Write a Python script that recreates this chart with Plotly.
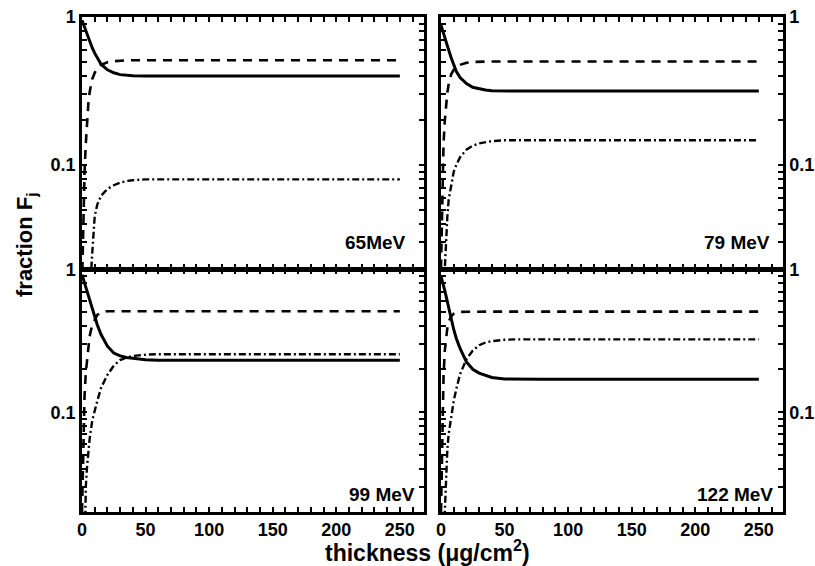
import plotly.graph_objects as go
import math

thickness = [0, 1, 2, 3, 4, 5, 6, 8, 10, 12, 15, 20, 25, 30, 35, 40, 50, 60, 80, 100, 150, 200, 250]

panels = ["65MeV", "79 MeV", "99 MeV", "122 MeV"]

# 65 MeV
solid_65 = [0.95, 0.90, 0.85, 0.80, 0.76, 0.72, 0.68, 0.62, 0.57, 0.53, 0.48, 0.44, 0.42, 0.408, 0.403, 0.401, 0.40, 0.40, 0.40, 0.40, 0.40, 0.40, 0.40]
dash_65 = [0.015, 0.05, 0.09, 0.14, 0.20, 0.26, 0.31, 0.38, 0.42, 0.45, 0.475, 0.495, 0.503, 0.508, 0.51, 0.51, 0.51, 0.51, 0.51, 0.51, 0.51, 0.51, 0.51]
dashdot_65 = [0.0003, 0.001, 0.002, 0.004, 0.006, 0.009, 0.013, 0.025, 0.045, 0.054, 0.062, 0.069, 0.073, 0.076, 0.078, 0.079, 0.08, 0.08, 0.08, 0.08, 0.08, 0.08, 0.08]

# 79 MeV
solid_79 = [0.88, 0.83, 0.78, 0.73, 0.68, 0.64, 0.60, 0.53, 0.47, 0.43, 0.39, 0.355, 0.335, 0.326, 0.321, 0.318, 0.316, 0.316, 0.316, 0.316, 0.316, 0.316, 0.316]
dash_79 = [0.02, 0.07, 0.14, 0.20, 0.26, 0.31, 0.35, 0.41, 0.44, 0.46, 0.475, 0.49, 0.497, 0.50, 0.50, 0.50, 0.50, 0.50, 0.50, 0.50, 0.50, 0.50, 0.50]
dashdot_79 = [0.001, 0.004, 0.01, 0.02, 0.032, 0.045, 0.058, 0.075, 0.09, 0.10, 0.113, 0.127, 0.135, 0.14, 0.143, 0.145, 0.147, 0.147, 0.147, 0.147, 0.147, 0.147, 0.147]

# 99 MeV
solid_99 = [0.92, 0.86, 0.80, 0.75, 0.70, 0.65, 0.60, 0.52, 0.46, 0.41, 0.35, 0.29, 0.26, 0.248, 0.242, 0.238, 0.233, 0.231, 0.231, 0.231, 0.231, 0.231, 0.231]
dash_99 = [0.02, 0.07, 0.13, 0.19, 0.24, 0.29, 0.34, 0.41, 0.45, 0.48, 0.50, 0.51, 0.51, 0.51, 0.51, 0.51, 0.51, 0.51, 0.51, 0.51, 0.51, 0.51, 0.51]
dashdot_99 = [0.001, 0.004, 0.015, 0.03, 0.042, 0.055, 0.065, 0.087, 0.105, 0.12, 0.148, 0.183, 0.212, 0.232, 0.242, 0.248, 0.253, 0.255, 0.255, 0.255, 0.255, 0.255, 0.255]

# 122 MeV
solid_122 = [0.90, 0.84, 0.78, 0.71, 0.65, 0.59, 0.53, 0.45, 0.38, 0.33, 0.28, 0.225, 0.20, 0.188, 0.181, 0.175, 0.171, 0.17, 0.17, 0.17, 0.17, 0.17, 0.17]
dash_122 = [0.02, 0.09, 0.18, 0.27, 0.34, 0.39, 0.43, 0.47, 0.49, 0.50, 0.505, 0.507, 0.507, 0.507, 0.507, 0.507, 0.507, 0.507, 0.507, 0.507, 0.507, 0.507, 0.507]
dashdot_122 = [0.001, 0.004, 0.012, 0.02, 0.04, 0.055, 0.07, 0.095, 0.12, 0.145, 0.185, 0.235, 0.27, 0.295, 0.308, 0.315, 0.322, 0.324, 0.324, 0.324, 0.324, 0.324, 0.324]

# axis ticks (every tick position; labels only on the major ones)
x_tickvals = list(range(0, 261, 10))
x_ticktext = [str(v) if v % 50 == 0 else "" for v in x_tickvals]
y_tickvals = [0.02, 0.03, 0.04, 0.05, 0.06, 0.07, 0.08, 0.09, 0.1, 0.2, 0.3, 0.4, 0.5, 0.6, 0.7, 0.8, 0.9, 1.0]
y_ticktext = ["", "", "", "", "", "", "", "", "0.1", "", "", "", "", "", "", "", "", "1"]
y_min, y_max = 0.02, 1.0

series = [
    (solid_65, dash_65, dashdot_65),
    (solid_79, dash_79, dashdot_79),
    (solid_99, dash_99, dashdot_99),
    (solid_122, dash_122, dashdot_122),
]

def lg(vals):
    return [math.log10(v) for v in vals]

W, H = 815, 566
ML, MR, MT, MB = 82, 32, 17, 54
PW, PH = W - ML - MR, H - MT - MB
FONT = "Liberation Sans, Arial, sans-serif"

def px(x):
    return (x - ML) / PW

def py(y):
    return (H - MB - y) / PH

# pixel frames of the panels: (left, right, top, bottom)
frames = [(82, 424, 17, 268.5), (441, 783, 17, 268.5), (82, 424, 269.5, 512), (441, 783, 269.5, 512)]
label_pos = [(408, 255), (772, 255), (417, 507), (775, 507)]

fig = go.Figure()
line_styles = [dict(color="black", width=3, dash="solid"),
               dict(color="black", width=2.6, dash="9px,7px"),
               dict(color="black", width=2.4, dash="7px,3px,2px,3px")]

for i, (frame, ser) in enumerate(zip(frames, series)):
    n = "" if i == 0 else str(i + 1)
    for ys, ls in zip(ser, line_styles):
        fig.add_trace(go.Scatter(x=thickness, y=lg(ys), mode="lines", line=ls,
                                 xaxis="x" + n, yaxis="y" + n, showlegend=False))
    l, r, t, b = frame
    xa = dict(domain=[max(0, px(l)), min(1, px(r))], range=[0, 269], anchor="y" + n,
              showline=True, linecolor="black", linewidth=2.5, mirror="allticks",
              ticks="inside", ticklen=5, tickwidth=1.5, tickcolor="black",
              tickmode="array", tickvals=x_tickvals, ticktext=x_ticktext,
              showgrid=False, zeroline=False,
              showticklabels=(i >= 2),
              tickfont=dict(family=FONT, size=18, color="black", weight="bold"))
    ya = dict(domain=[max(0, py(b)), min(1, py(t))], type="linear",
              range=[math.log10(y_min), math.log10(y_max)],
              anchor="x" + n, side=("left" if i % 2 == 0 else "right"),
              showline=True, linecolor="black", linewidth=2.5, mirror="allticks",
              ticks="inside", ticklen=5, tickwidth=1.5, tickcolor="black",
              tickmode="array", tickvals=lg(y_tickvals), ticktext=y_ticktext,
              showgrid=False, zeroline=False,
              tickfont=dict(family=FONT, size=18, color="black", weight="bold"))
    fig.layout["xaxis" + n] = xa
    fig.layout["yaxis" + n] = ya
    lx, ly = label_pos[i]
    fig.add_annotation(text=panels[i], xref="paper", yref="paper",
                       x=px(lx), y=py(ly), xanchor="right", yanchor="bottom", showarrow=False,
                       font=dict(family=FONT, size=19, color="black", weight="bold"))

fig.add_annotation(text="fraction F<sub>j</sub>", xref="paper", yref="paper",
                   x=px(26), y=py(245), textangle=-90, showarrow=False,
                   xanchor="center", yanchor="middle",
                   font=dict(family=FONT, size=22, color="black", weight="bold"))
fig.add_annotation(text="thickness (μg/cm<sup>2</sup>)", xref="paper", yref="paper",
                   x=px(427), y=py(551), showarrow=False,
                   xanchor="center", yanchor="middle",
                   font=dict(family=FONT, size=23, color="black", weight="bold"))

fig.update_layout(template="none", width=W, height=H,
                  margin=dict(l=ML, r=MR, t=MT, b=MB, pad=0),
                  paper_bgcolor="white", plot_bgcolor="white")
fig.write_html("out.html")
